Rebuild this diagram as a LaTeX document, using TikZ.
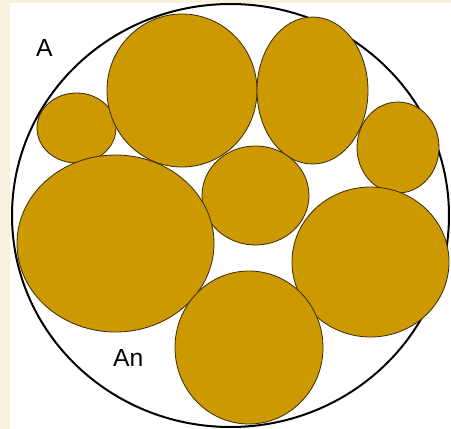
\documentclass[tikz,border=0pt]{standalone}
\usepackage{fontspec}
\setmainfont{Liberation Sans}
\definecolor{cream}{RGB}{250,240,220}
\definecolor{grainfill}{RGB}{204,153,0}
\definecolor{grainrim}{RGB}{60,40,10}
\begin{document}
\begin{tikzpicture}[
            x=1pt,y=-1pt,
            grain/.style={fill=grainfill,draw=grainrim,line width=0.8pt},
            every node/.style={
                inner sep=0pt,anchor=base west,
                font=\fontsize{24.7}{30}\selectfont
            }
        ]
    % Background
        \useasboundingbox (0,0) rectangle (451,429);
        \fill[cream] (0,0) rectangle (451,429);
        \fill[white] (10,3) rectangle (451,429);
    % Outer section
        \draw[line width=2pt] (230.5,215.5) ellipse [x radius=218.5,y radius=211.5];
    % Grains
    \foreach\cx/\cy/\rx/\ry in {76.5/128/39.5/35, 182/90.5/75/76.5, 312.5/90.5/55.5/73.5,
        398/147.5/41/45.5, 255.5/195.5/53.5/49.5, 115.5/243.5/98.5/88.5,
        370.5/262/78.5/75, 249/347.5/74/76.5}{
        \draw[grain] (\cx,\cy) ellipse [x radius=\rx,y radius=\ry];
    }
    % Labels
        \node (areaA) at (36,56) {A};
        \node (areaAn) at (113,366) {An};
    \end{tikzpicture}
\end{document}
